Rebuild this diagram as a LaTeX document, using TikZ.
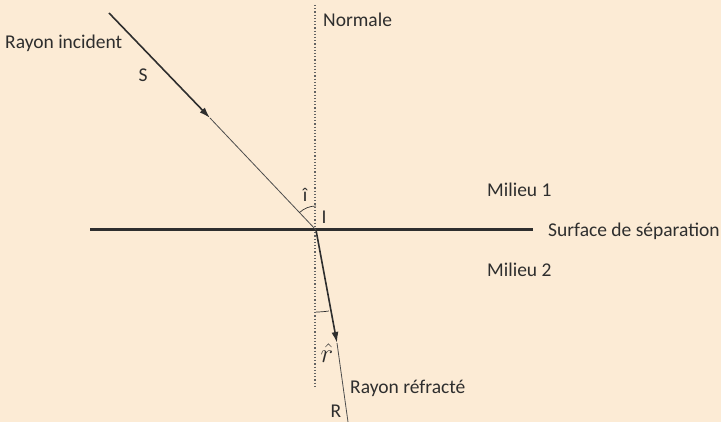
\documentclass[tikz,border=0pt]{standalone}
\usepackage{fontspec}
\setmainfont{Carlito}
\usetikzlibrary{arrows.meta}
\definecolor{bg}{HTML}{FCEBD5}
\definecolor{ink}{HTML}{2E2E2E}
\begin{document}
\begin{tikzpicture}[x=1pt,y=-1pt,
  lbl/.style={text=ink,font=\fontsize{19.5}{22}\selectfont,inner sep=0pt},
  thickray/.style={draw=ink,line width=1.6pt},
  thinray/.style={draw=ink!85,line width=0.8pt},
  tip/.style={-{Latex[length=11pt,width=7pt]}}]
\fill[bg] (0,0) rectangle (721,422);
\useasboundingbox (0,0) rectangle (721,422);
% points
\coordinate (I) at (316,230);
\coordinate (S0) at (109,13);
\coordinate (SA) at (210,118);
\coordinate (RA) at (337,343);
\coordinate (R1) at (348,422);
\coordinate (N0) at (315,5);
\coordinate (N1) at (315,388);
\coordinate (L0) at (90,230);
\coordinate (L1) at (533,230);
% normal
\draw[ink!75,dotted,line width=1.2pt] (N0) -- (N1);
% interface
\draw[ink,line width=3pt] (L0) -- (L1);
% incident ray
\draw[thickray,tip] (S0) -- (SA);
\draw[thinray] (SA) -- (I);
% refracted ray
\draw[thickray,tip] (I) -- (RA);
\draw[thinray] (RA) -- (R1);
% angle arcs
\draw[ink,line width=0.7pt] (I) ++(-90:24) arc[start angle=-90,end angle=-133.7,radius=24];
\draw[ink,line width=0.7pt] (I) ++(90:82) arc[start angle=90,end angle=81,radius=82];
% labels
\node[lbl,anchor=west] (tinc) at (5,43) {Rayon incident};
\node[lbl] (tS) at (143,75) {S};
\node[lbl,anchor=west] (tN) at (323,20) {Normale};
\node[lbl] (ti) at (305,195) {î};
\node[lbl] (tI) at (324,217) {I};
\node[lbl,anchor=west] (tm1) at (487,190) {Milieu 1};
\node[lbl,anchor=west] (tsurf) at (548,231) {Surface de séparation};
\node[lbl,anchor=west] (tm2) at (487,270) {Milieu 2};
\node[lbl] (tr) at (327,353) {\scalebox{1.3}{$\hat{r}$}};
\node[lbl,anchor=west] (trr) at (350,388) {Rayon réfracté};
\node[lbl] (tR) at (336,411) {R};
\end{tikzpicture}
\end{document}
